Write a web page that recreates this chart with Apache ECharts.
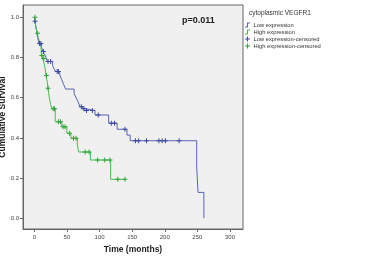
<!DOCTYPE html>
<html>
<head>
<meta charset="utf-8">
<script src="https://cdn.jsdelivr.net/npm/echarts@6/dist/echarts.min.js"></script>
<style>
html,body{margin:0;padding:0;background:#fff;}
#chart{width:369px;height:256px;}
</style>
</head>
<body>
<div id="chart"></div>
<script>
// Step points of the Kaplan-Meier curves: time (months) of each drop and survival after it
const lowTimes = [0, 1, 2, 3, 4, 5, 6, 7, 11, 13, 15, 18, 20, 28, 30, 33, 39, 42, 45, 48, 61, 64, 67, 70, 74, 78, 93, 114, 127, 142, 147, 249, 251, 260];
const lowSurv  = [1.0, 0.98, 0.96, 0.94, 0.92, 0.90, 0.885, 0.87, 0.85, 0.83, 0.82, 0.80, 0.78, 0.76, 0.745, 0.73, 0.713, 0.69, 0.665, 0.643, 0.62, 0.60, 0.58, 0.555, 0.545, 0.536, 0.514, 0.473, 0.443, 0.414, 0.386, 0.257, 0.129, 0.0];
const highTimes = [0, 2, 4, 6, 8, 10, 11, 13, 16, 18, 20, 21, 23, 25, 27, 32, 42, 50, 56, 66, 68, 86, 117, 139];
const highSurv  = [1.0, 0.96, 0.92, 0.90, 0.88, 0.86, 0.81, 0.795, 0.755, 0.71, 0.675, 0.647, 0.60, 0.565, 0.545, 0.48, 0.455, 0.423, 0.398, 0.365, 0.33, 0.29, 0.194, 0.194];
// Censoring times
const lowCensor  = [1, 8, 10, 14, 21, 25, 35, 37, 72, 76, 80, 89, 98, 118, 123, 139, 155, 160, 172, 191, 196, 201, 222];
const highCensor = [1, 5, 11.5, 14.5, 18.5, 21, 29, 31, 37, 40, 44, 47, 54, 60, 64, 78, 84, 97, 108, 116, 128, 139];
// Axis ticks
const xTicks = [0, 50, 100, 150, 200, 250, 300];
const yTicks = [0.0, 0.2, 0.4, 0.6, 0.8, 1.0];
const seriesNames = ['Low expression', 'High expression', 'Low expression-censored', 'High expression-censored'];

function survAt(times, surv, t) {
  let s = surv[0];
  for (let i = 0; i < times.length; i++) { if (times[i] <= t) s = surv[i]; }
  return s;
}
const pair = (a, b) => a.map((v, i) => [v, b[i]]);

const blue = '#5664b6', blueMark = '#3d4aa3';
const green = '#4cbb4c', greenMark = '#2fa53a';
const plus = 'path://M4,0H6V4H10V6H6V10H4V6H0V4H4Z';
const stepIcon = 'path://M0,8H4V0H10V2H6V10H0Z';
const censIcon = 'path://M0,4H4V0H6V4H10V6H6V10H4V6H0Z';

const chart = echarts.init(document.getElementById('chart'), null, {renderer: 'canvas'});
chart.setOption({
  animation: false,
  backgroundColor: '#ffffff',
  textStyle: {fontFamily: 'Liberation Sans, Arial, sans-serif'},
  title: [
    {text: 'p=0.011', left: 182, top: 16, padding: 0, textStyle: {fontSize: 9, fontWeight: 'bold', color: '#222'}},
    {text: 'cytoplasmic VEGFR1', left: 249, top: 10, padding: 0, textStyle: {fontSize: 6.5, fontWeight: 'normal', color: '#333'}}
  ],
  legend: {
    orient: 'vertical', left: 245, top: 22, padding: 0, itemWidth: 8, itemHeight: 5, itemGap: 1,
    selectedMode: false,
    textStyle: {fontSize: 5.8, color: '#333', lineHeight: 6, padding: [0, 0, 0, -3]},
    data: [
      {name: seriesNames[0], icon: stepIcon},
      {name: seriesNames[1], icon: stepIcon},
      {name: seriesNames[2], icon: censIcon},
      {name: seriesNames[3], icon: censIcon}
    ]
  },
  grid: {left: 23, top: 5, right: 126, bottom: 27, containLabel: false, outerBoundsMode: 'none',
         show: true, backgroundColor: '#f0f0f0', borderColor: '#666', borderWidth: 1},
  xAxis: {
    type: 'value', min: -17.4, max: 320,
    name: 'Time (months)', nameLocation: 'middle', nameGap: 16, nameMoveOverlap: false,
    nameTextStyle: {fontSize: 8.5, fontWeight: 'bold', color: '#222'},
    axisLine: {show: true, onZero: false, lineStyle: {color: '#666'}},
    axisTick: {show: true, length: 3, customValues: xTicks, lineStyle: {color: '#666'}},
    axisLabel: {customValues: xTicks, fontSize: 6, color: '#444', margin: 5},
    splitLine: {show: false}
  },
  yAxis: {
    type: 'value', min: -0.053, max: 1.061,
    name: 'Cumulative Survival', nameLocation: 'middle', nameGap: 16, nameMoveOverlap: false,
    nameTextStyle: {fontSize: 8.5, fontWeight: 'bold', color: '#222'},
    axisLine: {show: true, onZero: false, lineStyle: {color: '#666'}},
    axisTick: {show: true, length: 3, customValues: yTicks, lineStyle: {color: '#666'}},
    axisLabel: {customValues: yTicks, fontSize: 6, color: '#444', margin: 4, formatter: v => v.toFixed(1)},
    splitLine: {show: false}
  },
  series: [
    {name: seriesNames[0], type: 'line', step: 'end', showSymbol: false, symbol: 'none',
     lineStyle: {color: blue, width: 1}, itemStyle: {color: blue}, data: pair(lowTimes, lowSurv), z: 3},
    {name: seriesNames[1], type: 'line', step: 'end', showSymbol: false, symbol: 'none',
     lineStyle: {color: green, width: 1}, itemStyle: {color: green}, data: pair(highTimes, highSurv), z: 3},
    {name: seriesNames[2], type: 'scatter', symbol: plus, symbolSize: 5,
     itemStyle: {color: blueMark, opacity: 1}, z: 4,
     data: lowCensor.map(t => [t, survAt(lowTimes, lowSurv, t)])},
    {name: seriesNames[3], type: 'scatter', symbol: plus, symbolSize: 5,
     itemStyle: {color: greenMark, opacity: 1}, z: 4,
     data: highCensor.map(t => [t, survAt(highTimes, highSurv, t)])}
  ]
});
</script>
</body>
</html>
